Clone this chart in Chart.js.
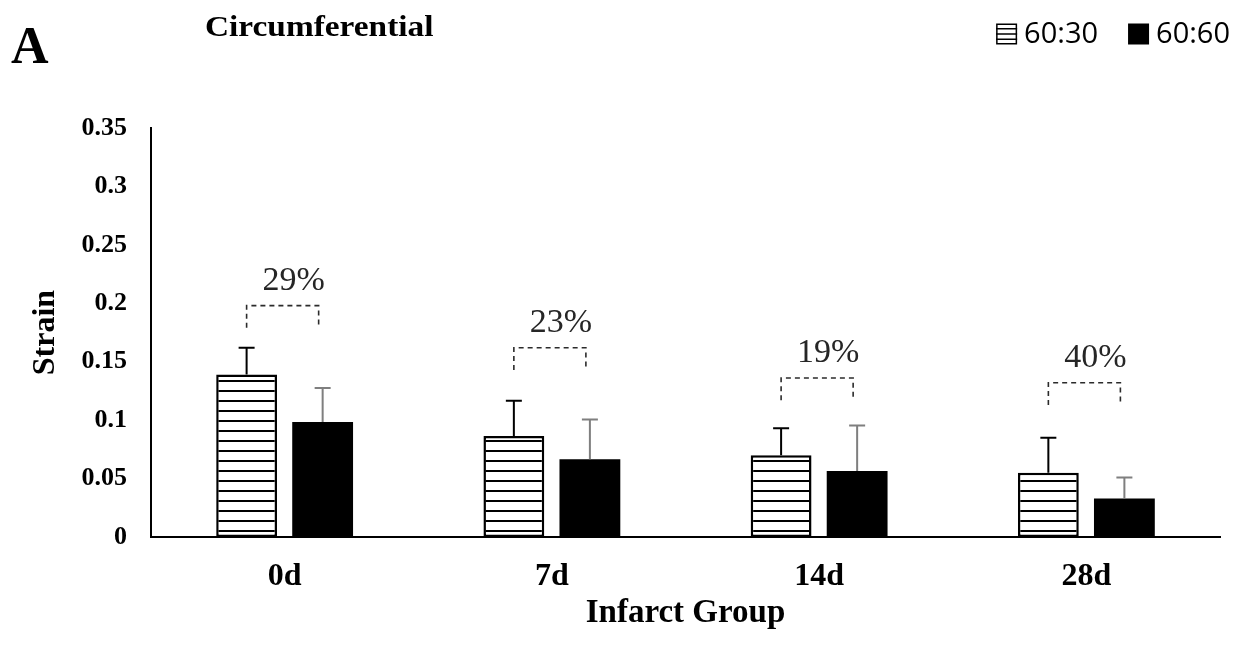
<!DOCTYPE html>
<html>
<head>
<meta charset="utf-8">
<title>Circumferential strain</title>
<script src="https://cdn.jsdelivr.net/npm/chart.js@4/dist/chart.umd.min.js"></script>
<style>
  html, body { margin: 0; padding: 0; background: #ffffff; }
  #wrap { width: 1243px; height: 646px; }
  canvas { display: block; }
</style>
</head>
<body>
<div id="wrap"><canvas id="chart" width="1243" height="646"></canvas></div>
<script>
// ---- data ----
const categories = ['0d', '7d', '14d', '28d'];
const seriesNames = ['60:30', '60:60'];
const strain6030 = [0.139, 0.0865, 0.070, 0.055];
const strain6060 = [0.0985, 0.0665, 0.0565, 0.033];
const sd6030 = [0.023, 0.030, 0.023, 0.030];
const sd6060 = [0.029, 0.034, 0.039, 0.018];
const dropLabels = ['29%', '23%', '19%', '40%'];
const bracketLevel = [0.198, 0.162, 0.136, 0.132];
const bracketLeg = 0.019;
const yTickLabels = ['0', '0.05', '0.1', '0.15', '0.2', '0.25', '0.3', '0.35'];
const panelLetter = 'A';
const chartTitle = 'Circumferential';
const xTitle = 'Infarct Group';
const yTitle = 'Strain';

const SERIF = '"Liberation Serif", "Times New Roman", serif';

const canvas = document.getElementById('chart');
const mainCtx = canvas.getContext('2d');

// horizontal-line fill for the 60:30 bars
function makeHatch(period, line) {
  const c = document.createElement('canvas');
  c.width = 8; c.height = period;
  const g = c.getContext('2d');
  g.fillStyle = '#ffffff'; g.fillRect(0, 0, 8, period);
  g.fillStyle = '#000000'; g.fillRect(0, 0, 8, line);
  return mainCtx.createPattern(c, 'repeat');
}
const hatch = makeHatch(10, 2);

// upper error whiskers
const errorBars = {
  id: 'errorBars',
  afterDatasetsDraw(chart) {
    const ctx = chart.ctx, y = chart.scales.y;
    chart.data.datasets.forEach((ds, i) => {
      const meta = chart.getDatasetMeta(i);
      ctx.save();
      ctx.strokeStyle = ds.whiskerColor;
      ctx.lineWidth = 2;
      meta.data.forEach((bar, j) => {
        const top = y.getPixelForValue(ds.data[j] + ds.sd[j]);
        ctx.beginPath();
        ctx.moveTo(bar.x, bar.y);
        ctx.lineTo(bar.x, top);
        ctx.moveTo(bar.x - 8, top);
        ctx.lineTo(bar.x + 8, top);
        ctx.stroke();
      });
      ctx.restore();
    });
  }
};

// dashed comparison brackets with percent drop
const brackets = {
  id: 'brackets',
  afterDatasetsDraw(chart) {
    const ctx = chart.ctx, y = chart.scales.y;
    const a = chart.getDatasetMeta(0).data, b = chart.getDatasetMeta(1).data;
    ctx.save();
    categories.forEach((c, j) => {
      const x1 = a[j].x, x2 = b[j].x - 4;
      const yt = y.getPixelForValue(bracketLevel[j]);
      const yb = y.getPixelForValue(bracketLevel[j] - bracketLeg);
      ctx.strokeStyle = '#2b2b2b';
      ctx.lineWidth = 1.6;
      ctx.setLineDash([5, 4]);
      ctx.beginPath();
      ctx.moveTo(x1, yb); ctx.lineTo(x1, yt); ctx.lineTo(x2, yt); ctx.lineTo(x2, yb);
      ctx.stroke();
      ctx.setLineDash([]);
      ctx.fillStyle = '#262626';
      ctx.font = '34px ' + SERIF;
      ctx.textAlign = 'center';
      ctx.textBaseline = 'alphabetic';
      ctx.fillText(dropLabels[j], (x1 + x2) / 2 + 11, yt - 16);
    });
    ctx.restore();
  }
};

// panel letter, title and legend in the top band
const header = {
  id: 'header',
  afterDraw(chart) {
    const ctx = chart.ctx;
    ctx.save();
    ctx.fillStyle = '#000';
    ctx.textBaseline = 'alphabetic';
    ctx.textAlign = 'left';
    ctx.font = 'bold 52px ' + SERIF;
    ctx.fillText(panelLetter, 11, 63);
    ctx.save();
    ctx.translate(205, 36);
    ctx.scale(1.15, 1);
    ctx.font = 'bold 29px ' + SERIF;
    ctx.fillText(chartTitle, 0, 0);
    ctx.restore();

    ctx.font = '29px "Open Sans", sans-serif';
    ctx.textBaseline = 'middle';
    const box = 21, gapText = 7, gapItem = 30, cy = 34;
    let x = 1230;
    const ds = chart.data.datasets;
    for (let i = ds.length - 1; i >= 0; i--) {
      const w = ctx.measureText(ds[i].label).width;
      const tx = x - w;
      ctx.fillStyle = '#000';
      ctx.fillText(ds[i].label, tx, cy + 1);
      const bx = tx - gapText - box, by = cy - box / 2;
      if (ds[i].backgroundColor === hatch) {
        ctx.fillStyle = '#fff';
        ctx.fillRect(bx, by, box, box);
        ctx.fillStyle = '#000';
        for (let k = 1; k < 4; k++) ctx.fillRect(bx, by + k * box / 4 - 0.75, box, 1.5);
        ctx.lineWidth = 1.5;
        ctx.strokeStyle = '#000';
        ctx.strokeRect(bx + 0.75, by + 0.75, box - 1.5, box - 1.5);
      } else {
        ctx.fillStyle = ds[i].backgroundColor;
        ctx.fillRect(bx, by, box, box);
      }
      x = bx - gapItem;
    }
    ctx.restore();
  }
};

new Chart(canvas, {
  type: 'bar',
  data: {
    labels: categories,
    datasets: [
      {
        label: seriesNames[0],
        data: strain6030,
        sd: sd6030,
        whiskerColor: '#000000',
        backgroundColor: hatch,
        borderColor: '#000000',
        borderWidth: 2.5,
        borderSkipped: false,
        categoryPercentage: 0.569,
        barPercentage: 0.80
      },
      {
        label: seriesNames[1],
        data: strain6060,
        sd: sd6060,
        whiskerColor: '#7f7f7f',
        backgroundColor: '#000000',
        borderColor: '#000000',
        borderWidth: 0,
        categoryPercentage: 0.569,
        barPercentage: 0.80
      }
    ]
  },
  options: {
    responsive: false,
    animation: false,
    devicePixelRatio: 1,
    layout: { padding: { top: 128, right: 23, bottom: 0, left: 0 } },
    plugins: {
      legend: { display: false },
      title: { display: false },
      tooltip: { enabled: false }
    },
    scales: {
      x: {
        grid: { display: false, drawTicks: false },
        border: { display: true, color: '#000', width: 2 },
        ticks: {
          color: '#000',
          font: { family: SERIF, size: 32, weight: 'bold' },
          padding: 21,
          maxRotation: 0
        },
        title: {
          display: true,
          text: xTitle,
          color: '#000',
          font: { family: SERIF, size: 33, weight: 'bold' },
          padding: { top: 0, bottom: 13 }
        },
        afterFit(s) { s.height = 109; }
      },
      y: {
        min: 0,
        max: 0.35,
        grid: { display: false, drawTicks: false },
        border: { display: true, color: '#000', width: 2 },
        ticks: {
          stepSize: 0.05,
          color: '#000',
          font: { family: SERIF, size: 26, weight: 'bold' },
          padding: 24,
          callback: (v, i) => yTickLabels[i]
        },
        title: {
          display: true,
          text: yTitle,
          color: '#000',
          font: { family: SERIF, size: 32, weight: 'bold' },
          padding: { top: 27, bottom: 0 }
        },
        afterFit(s) { s.width = 151; }
      }
    }
  },
  plugins: [errorBars, brackets, header]
});
</script>
</body>
</html>
